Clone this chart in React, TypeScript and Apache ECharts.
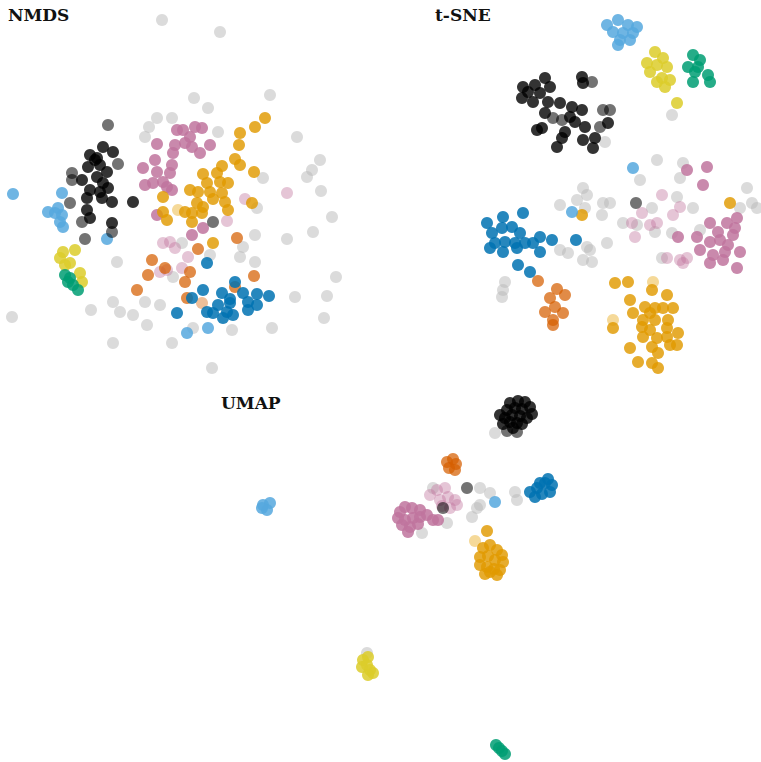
import React, { useEffect, useRef } from "react";
import * as echarts from "echarts";

// Panel titles
const panelTitles = ["NMDS", "t-SNE", "UMAP"];

// ---------- NMDS (dimension units, y downwards) ----------
const nmdsGrey = [[16.2,2.0],[22.0,3.2],[27.0,9.5],[19.4,9.8],[20.8,10.8],[15.7,11.8],[17.2,11.8],[14.9,12.7],[14.5,13.7],[21.8,13.2],[29.7,13.7],[32.0,16.0],[31.2,17.0],[30.7,17.7],[26.3,17.8],[32.1,19.1],[25.7,20.8],[33.2,21.7],[31.3,23.2],[28.7,23.9],[25.5,23.5],[24.3,24.7],[24.0,25.7],[25.5,26.2],[21.0,25.5],[18.2,24.3],[17.3,27.7],[11.7,26.2],[33.6,27.7],[29.5,29.7],[32.7,29.6],[32.4,31.8],[27.2,32.8],[23.2,33.0],[19.3,32.8],[16.0,30.5],[14.7,32.5],[13.3,31.5],[12.0,31.2],[11.3,30.2],[9.1,31.0],[1.2,31.7],[11.3,34.3],[17.2,34.3],[21.2,36.8],[14.5,30.2]];
const nmdsDarkGrey = [[10.8,12.5],[11.8,16.4],[7.2,17.3],[7.2,18.0],[7.0,20.3],[8.2,22.2],[11.2,23.2],[8.5,23.9],[21.3,22.2]];
const nmdsBlack = [[10.3,14.7],[11.3,15.2],[9.0,15.5],[9.7,15.8],[10.0,16.5],[8.8,16.7],[10.7,17.2],[8.2,18.0],[9.7,17.7],[9.0,19.0],[10.0,19.2],[10.8,18.8],[10.2,19.8],[11.2,20.2],[8.7,19.8],[13.3,20.2],[8.7,21.0],[9.0,21.8],[11.2,22.3],[9.5,16.0],[10.3,18.3]];
const nmdsPink = [[17.7,13.0],[18.3,13.0],[19.5,12.7],[20.2,12.8],[19.0,13.7],[18.5,14.3],[17.5,14.5],[15.7,14.4],[19.2,14.7],[21.0,14.5],[20.0,15.3],[17.3,15.3],[15.5,16.0],[17.2,16.5],[14.3,16.8],[15.7,17.2],[17.0,17.3],[16.3,18.2],[14.5,18.5],[15.3,18.3],[16.7,18.7],[17.2,19.0],[15.7,21.5],[20.3,22.8],[19.2,23.5]];
const nmdsLightPink = [[28.7,19.3],[24.5,19.9],[22.7,22.1],[16.3,24.3],[17.0,24.2],[17.5,24.8],[18.8,25.7],[16.7,27.0],[18.2,26.8],[16.0,27.2]];
const nmdsGold = [[26.5,11.8],[25.5,12.7],[24.0,13.3],[23.9,14.5],[23.5,15.9],[24.0,16.5],[22.2,16.6],[21.7,17.3],[20.3,17.4],[22.0,18.2],[22.8,18.3],[20.7,18.3],[19.0,19.0],[19.8,19.2],[21.0,19.2],[22.2,19.3],[21.3,19.9],[19.7,20.3],[20.3,20.7],[16.3,19.7],[22.5,20.2],[22.8,21.0],[25.2,20.3],[25.4,17.2],[18.5,21.2],[19.2,21.3],[20.2,21.3],[19.2,22.2],[16.3,21.2],[16.7,22.0],[21.3,24.3]];
const nmdsLightGold = [[17.8,21.0]];
const nmdsVermillion = [[23.7,23.8],[19.8,24.9],[15.2,26.0],[16.5,26.8],[19.0,27.2],[14.8,27.5],[18.5,28.2],[13.7,29.0],[18.7,29.8],[25.4,27.6],[23.5,28.7]];
const nmdsLightVermillion = [[20.2,30.3]];
const nmdsBlue = [[20.7,26.3],[23.5,28.2],[20.3,29.0],[22.2,29.3],[24.3,29.3],[25.7,29.4],[26.9,29.6],[23.0,29.9],[19.2,29.8],[21.8,30.5],[20.7,31.2],[24.8,30.2],[25.7,30.5],[24.8,31.0],[22.7,31.2],[23.3,31.5],[22.3,31.8],[17.7,31.3],[21.3,31.3],[23.0,30.3]];
const nmdsSkyBlue = [[1.3,19.4],[6.2,19.3],[4.8,21.2],[5.8,20.8],[6.2,21.5],[6.0,22.2],[6.3,22.7],[10.7,23.9],[5.5,21.3],[18.7,33.3],[20.8,32.8]];
const nmdsYellow = [[6.3,25.2],[7.5,25.0],[6.0,25.8],[7.0,26.3],[8.0,27.3],[8.2,28.2],[6.5,26.5]];
const nmdsGreen = [[6.5,27.5],[7.0,27.8],[7.3,28.5],[7.8,29.0],[6.8,28.2]];

// ---------- t-SNE ----------
const tsneSkyBlue = [[22.7,2.5],[23.8,2.0],[24.8,2.5],[25.7,2.7],[23.3,3.2],[24.3,3.3],[25.3,3.3],[24.0,4.0],[23.8,4.5],[25.0,4.0],[25.3,16.8],[19.2,21.2]];
const tsneYellow = [[27.5,5.2],[28.3,5.8],[26.7,6.3],[27.7,6.5],[28.7,6.7],[27.0,7.2],[28.2,7.8],[29.0,8.0],[27.7,8.2],[28.5,8.7],[29.7,10.3]];
const tsneGreen = [[31.3,5.5],[32.0,6.0],[30.8,6.7],[31.8,6.7],[31.5,7.2],[32.8,7.5],[31.3,8.2],[33.0,8.2]];
const tsneBlack = [[14.3,8.7],[15.5,8.5],[16.5,7.8],[17.0,8.7],[14.8,9.2],[16.0,9.3],[14.2,9.8],[15.3,10.2],[16.8,10.2],[16.5,11.3],[18.0,10.3],[20.2,7.7],[20.3,8.3],[19.2,10.7],[19.0,11.7],[20.2,11.0],[19.5,12.2],[20.5,12.7],[18.5,13.2],[16.2,12.8],[17.7,14.7],[18.2,13.8],[20.3,14.0],[21.3,14.8],[21.5,13.8],[15.7,13.0],[22.8,12.3]];
const tsneDarkGrey = [[21.2,8.2],[17.3,11.8],[18.2,12.0],[22.3,11.0],[23.0,11.0],[22.0,12.7],[25.6,20.3]];
const tsneGrey = [[29.2,11.5],[22.5,14.2],[27.7,16.0],[30.3,16.3],[30.0,17.8],[26.0,18.0],[20.3,18.8],[20.7,19.5],[18.0,20.5],[19.7,20.0],[22.3,20.3],[23.0,20.3],[22.2,21.5],[20.5,20.8],[27.2,20.8],[29.7,19.7],[31.3,20.8],[24.3,22.3],[25.7,22.5],[27.5,23.2],[29.2,23.3],[32.0,23.0],[18.0,25.0],[18.8,25.3],[20.7,24.7],[21.0,25.0],[22.7,24.3],[20.3,26.0],[21.2,26.2],[28.2,25.8],[12.5,28.2],[12.3,29.0],[12.2,29.7],[36.7,18.8],[37.2,20.3],[37.7,20.8],[36.0,20.8]];
const tsnePink = [[30.7,17.0],[32.7,16.7],[32.3,18.5],[33.0,22.3],[34.7,22.3],[35.7,21.8],[35.5,22.8],[33.0,24.2],[34.0,24.0],[34.8,24.5],[36.0,25.2],[34.5,25.2],[32.0,25.0],[33.3,25.5],[34.3,26.0],[35.7,26.8],[33.0,26.3],[35.3,23.5],[33.8,23.2],[31.7,23.7],[29.8,23.7]];
const tsneLightPink = [[28.2,19.5],[30.0,20.7],[29.3,21.5],[26.2,21.3],[25.2,22.3],[27.0,22.5],[27.7,22.3],[25.5,23.7],[28.7,25.8],[30.0,26.0],[30.7,25.8],[30.3,26.3]];
const tsneBlue = [[10.7,22.3],[12.3,21.7],[14.3,21.3],[11.2,23.3],[12.2,22.8],[13.2,22.7],[14.0,23.3],[11.5,24.3],[12.5,24.2],[13.5,24.3],[14.5,24.3],[11.0,24.8],[12.3,25.2],[13.7,24.8],[15.3,24.3],[16.0,23.7],[17.2,24.0],[16.0,25.2],[19.6,24.0],[13.8,26.5],[15.0,27.2]];
const tsneGold = [[20.2,21.5],[35.0,20.3],[23.5,28.3],[24.8,28.2],[27.2,29.0],[28.7,29.5],[25.0,30.0],[26.5,30.7],[27.5,30.8],[28.3,30.8],[29.3,30.8],[25.3,31.3],[27.0,31.3],[26.3,32.0],[27.5,32.0],[28.8,32.0],[23.3,32.8],[26.2,32.7],[28.7,32.8],[29.8,33.3],[26.3,33.7],[27.7,33.8],[29.0,34.5],[29.7,34.5],[25.0,34.8],[27.2,34.7],[27.8,35.3],[25.8,36.2],[27.2,36.3],[27.8,36.8],[28.7,33.7],[27.0,33.0]];
const tsneLightGold = [[27.3,28.2],[23.3,32.0]];
const tsneVermillion = [[15.8,28.1],[17.7,28.9],[18.5,29.5],[17.0,29.8],[17.5,30.7],[16.5,31.2],[18.3,31.3],[17.3,32.0],[17.3,32.5]];

// ---------- UMAP ----------
const umapBlack = [[51.0,2.3],[51.8,2.1],[52.5,2.2],[53.0,2.7],[51.5,2.8],[52.2,2.9],[53.2,3.4],[50.7,3.0],[50.0,3.5],[50.5,3.8],[51.2,3.5],[52.0,3.6],[52.7,3.8],[50.3,4.4],[51.0,4.2],[51.7,4.3],[51.3,4.8],[52.2,4.4]];
const umapDarkGrey = [[51.7,5.2],[50.7,5.1],[46.7,10.8],[44.3,12.8]];
const umapGrey = [[49.5,5.3],[43.3,10.8],[49.0,11.3],[51.5,11.2],[51.7,12.0],[47.2,13.7],[47.7,12.8],[48.0,12.5],[44.7,14.3],[42.2,15.3],[48.0,10.8],[36.7,27.3]];
const umapVermillion = [[44.7,8.2],[45.3,7.9],[45.6,8.4],[44.9,8.8],[45.5,9.0]];
const umapBlue = [[53.0,11.2],[53.7,10.8],[54.5,10.3],[55.2,10.5],[55.0,11.2],[54.2,11.4],[53.5,11.7],[54.8,9.9],[54.0,10.3]];
const umapSkyBlue = [[26.3,12.5],[27.0,12.3],[26.7,13.0],[26.2,12.8],[49.5,12.2]];
const umapPink = [[40.0,13.2],[40.5,12.7],[41.2,12.8],[42.0,13.0],[39.8,13.8],[40.5,14.0],[41.3,13.8],[42.0,13.7],[42.7,13.5],[40.2,14.5],[41.0,14.7],[40.8,15.2],[41.8,14.4],[43.3,14.0],[43.8,14.0]];
const umapLightPink = [[43.7,11.0],[44.5,10.8],[44.0,12.0],[44.8,11.7],[45.5,12.0],[45.0,12.8],[44.2,12.6],[45.7,12.5],[43.0,11.5]];
const umapGold = [[48.7,15.1],[48.3,16.8],[49.0,16.5],[49.7,17.0],[50.2,17.5],[48.0,17.7],[48.8,17.6],[49.5,18.0],[50.3,18.2],[48.0,18.5],[48.7,18.7],[49.4,18.9],[50.0,19.0],[48.5,19.4],[49.7,19.5],[49.0,19.2]];
const umapLightGold = [[47.5,16.1]];
const umapYellow = [[36.3,28.0],[36.8,27.7],[36.2,28.7],[36.7,28.5],[37.0,29.0],[37.3,29.3],[36.8,29.5]];
const umapGreen = [[49.6,36.5],[49.9,36.8],[50.2,37.1],[50.5,37.4]];

const STYLES: Record<string, { color: string; opacity: number }> = {
  grey: { color: "#b8b8b8", opacity: 0.5 },
  darkGrey: { color: "#000000", opacity: 0.55 },
  black: { color: "#000000", opacity: 0.8 },
  pink: { color: "#C0749E", opacity: 0.85 },
  lightPink: { color: "#C0749E", opacity: 0.42 },
  gold: { color: "#E09A00", opacity: 0.82 },
  lightGold: { color: "#E69F00", opacity: 0.4 },
  vermillion: { color: "#D55E00", opacity: 0.72 },
  lightVermillion: { color: "#D55E00", opacity: 0.4 },
  blue: { color: "#0072B2", opacity: 0.85 },
  skyBlue: { color: "#56A8DE", opacity: 0.85 },
  yellow: { color: "#DCCC2A", opacity: 0.85 },
  green: { color: "#009E73", opacity: 0.85 },
};

const panels: [string, any][][] = [
  [["grey", nmdsGrey], ["lightPink", nmdsLightPink], ["lightGold", nmdsLightGold], ["lightVermillion", nmdsLightVermillion], ["pink", nmdsPink], ["gold", nmdsGold], ["vermillion", nmdsVermillion], ["blue", nmdsBlue], ["skyBlue", nmdsSkyBlue], ["yellow", nmdsYellow], ["green", nmdsGreen], ["darkGrey", nmdsDarkGrey], ["black", nmdsBlack]],
  [["grey", tsneGrey], ["lightPink", tsneLightPink], ["lightGold", tsneLightGold], ["pink", tsnePink], ["gold", tsneGold], ["vermillion", tsneVermillion], ["blue", tsneBlue], ["skyBlue", tsneSkyBlue], ["yellow", tsneYellow], ["green", tsneGreen], ["darkGrey", tsneDarkGrey], ["black", tsneBlack]],
  [["grey", umapGrey], ["lightPink", umapLightPink], ["lightGold", umapLightGold], ["pink", umapPink], ["gold", umapGold], ["vermillion", umapVermillion], ["blue", umapBlue], ["skyBlue", umapSkyBlue], ["yellow", umapYellow], ["green", umapGreen], ["darkGrey", umapDarkGrey], ["black", umapBlack]],
];

export default function App() {
  const ref = useRef<HTMLDivElement>(null);
  useEffect(() => {
    document.body.style.margin = "0";
    const chart = echarts.init(ref.current!, null, { renderer: "svg" });
    const grids = [
      { left: 0, top: 0, width: 380, height: 380 },
      { left: 380, top: 0, width: 381, height: 380 },
      { left: 0, top: 380, width: 761, height: 382 },
    ];
    const xRanges = [[0, 38], [0, 38.1], [0, 76.1]];
    const yRanges = [[0, 38], [0, 38], [0, 38.2]];
    const series: any[] = [];
    panels.forEach((groups, pi) => {
      groups.forEach(([key, data]) => {
        const st = STYLES[key];
        series.push({
          type: "scatter",
          name: key,
          xAxisIndex: pi,
          yAxisIndex: pi,
          data,
          symbolSize: 12,
          itemStyle: { color: st.color, opacity: st.opacity },
          silent: true,
        });
      });
    });
    const titleFont = { fontFamily: "DejaVu Serif", fontWeight: "bold" as const, fontSize: 17, color: "#111" };
    chart.setOption({
      animation: false,
      backgroundColor: "#ffffff",
      title: [
        { text: panelTitles[0], left: 8, top: 6, textStyle: titleFont, padding: 0 },
        { text: panelTitles[1], left: 435, top: 6, textStyle: titleFont, padding: 0 },
        { text: panelTitles[2], left: 221, top: 394, textStyle: titleFont, padding: 0 },
      ],
      grid: grids,
      xAxis: xRanges.map((r, i) => ({ type: "value", gridIndex: i, min: r[0], max: r[1], show: false })),
      yAxis: yRanges.map((r, i) => ({ type: "value", gridIndex: i, min: r[0], max: r[1], inverse: true, show: false })),
      series,
    });
    return () => chart.dispose();
  }, []);
  return <div ref={ref} style={{ width: 761, height: 762 }} />;
}
